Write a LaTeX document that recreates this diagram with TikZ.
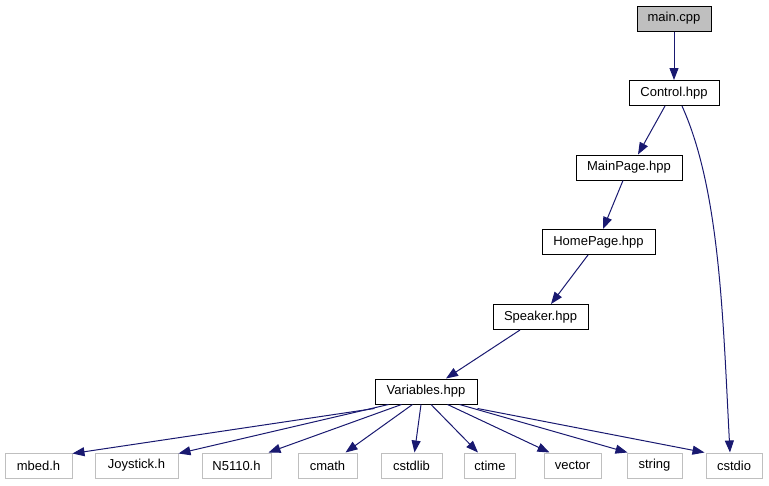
\documentclass[tikz,border=0pt]{standalone}
\usepackage{fontspec}
\setmainfont{Liberation Sans}
\usetikzlibrary{arrows.meta}
\definecolor{edgeblue}{RGB}{25,25,112}
\definecolor{boxgray}{RGB}{191,191,191}
\definecolor{sysgray}{RGB}{191,191,191}
\begin{document}
\begin{tikzpicture}[x=1pt,y=-1pt,
  box/.style={draw=black,line width=1pt,fill=white,minimum height=25pt,inner sep=0pt,font=\fontsize{13}{15}\selectfont},
  sysbox/.style={draw=sysgray,line width=1pt,fill=white,minimum height=25pt,inner sep=0pt,font=\fontsize{13}{15}\selectfont},
  e/.style={draw=edgeblue,line width=1pt,-{Triangle[length=12pt,width=9pt,fill=edgeblue]}}]
\useasboundingbox (0,0) rectangle (769,485);
\node[box,fill=boxgray,minimum width=74pt] (main) at (674,18.5) {main.cpp};
\node[box,minimum width=90pt] (ctrl) at (674,93) {Control.hpp};
\node[box,minimum width=106pt] (mainpage) at (629,167.5) {MainPage.hpp};
\node[box,minimum width=113pt] (home) at (598.5,242) {HomePage.hpp};
\node[box,minimum width=95pt] (spk) at (540.5,317) {Speaker.hpp};
\node[box,minimum width=102pt] (var) at (426,391.5) {Variables.hpp};
\node[sysbox,minimum width=67pt] (mbed) at (38.5,465.5) {mbed.h};
\node[sysbox,minimum width=83pt] (joy) at (136.5,465.5) {Joystick.h};
\node[sysbox,minimum width=69pt] (n5110) at (236.5,465.5) {N5110.h};
\node[sysbox,minimum width=59pt] (cmath) at (327.5,465.5) {cmath};
\node[sysbox,minimum width=61pt] (cstdlib) at (411.5,465.5) {cstdlib};
\node[sysbox,minimum width=51pt] (ctime) at (490,465.5) {ctime};
\node[sysbox,minimum width=57pt] (vector) at (572.5,465.5) {vector};
\node[sysbox,minimum width=55pt] (string) at (654.5,465.5) {string};
\node[sysbox,minimum width=56pt] (cstdio) at (734,465.5) {cstdio};

\draw[e] (main) -- (ctrl);
\draw[e] ([xshift=-9pt]ctrl.south) -- ([xshift=9pt]mainpage.north);
\draw[e] ([xshift=-6pt]mainpage.south) -- ([xshift=4.5pt]home.north);
\draw[e] ([xshift=-10.5pt]home.south) -- ([xshift=10.5pt]spk.north);
\draw[e] ([xshift=-20.5pt]spk.south) -- ([xshift=20pt]var.north);
\draw[e] ([xshift=8pt]ctrl.south) .. controls (720,190) and (723,320) .. ([xshift=-4pt]cstdio.north);

\draw[e] ([yshift=-4pt]var.south west) -- ([yshift=-1pt]mbed.north east);
\draw[e] ([xshift=14pt]var.south west) -- ([yshift=-1pt]joy.north east);
\draw[e] ([xshift=27pt]var.south west) -- ([xshift=-3pt]n5110.north east);
\draw[e] ([xshift=38pt]var.south west) -- ([xshift=-12pt]cmath.north east);
\draw[e] ([xshift=-5pt]var.south) -- ([xshift=3pt]cstdlib.north);
\draw[e] ([xshift=5pt]var.south) -- ([xshift=-12pt]ctime.north);
\draw[e] ([xshift=-30pt]var.south east) -- ([xshift=6pt]vector.north west);
\draw[e] ([xshift=-18pt]var.south east) -- ([xshift=1pt]string.north west);
\draw[e] ([yshift=-4pt]var.south east) -- ([xshift=-1pt]cstdio.north west);
\end{tikzpicture}
\end{document}
